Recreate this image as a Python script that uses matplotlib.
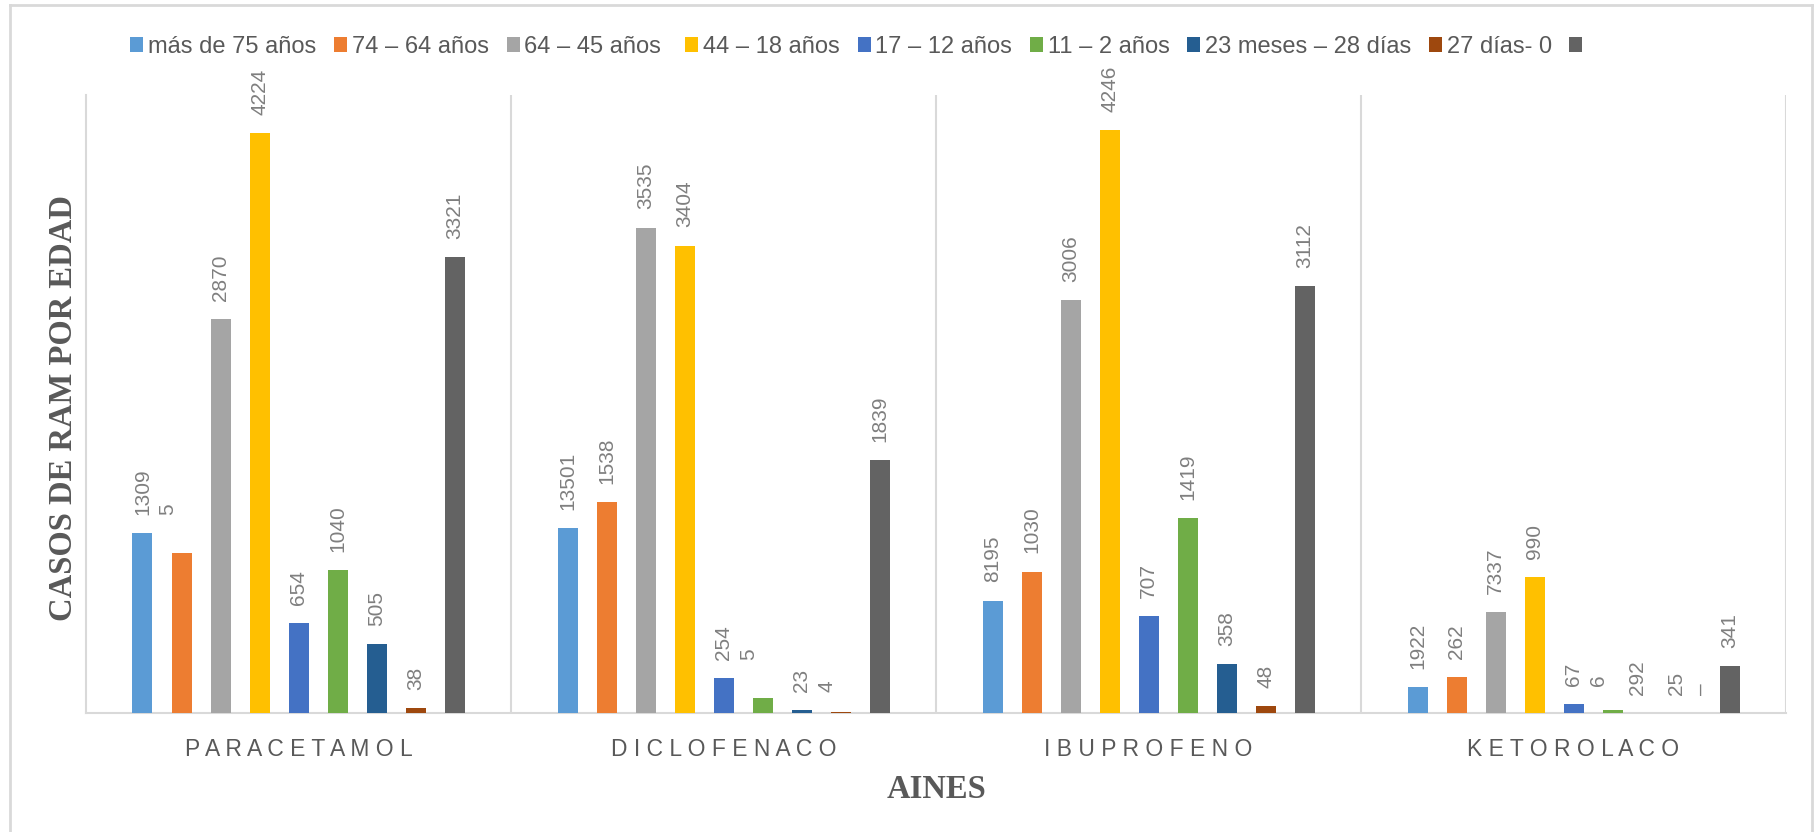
import numpy as np
import matplotlib
matplotlib.use("Agg")
import matplotlib.pyplot as plt
from matplotlib.patches import Patch
from matplotlib.lines import Line2D

# ---------------------------------------------------------------------------
# Datos: casos de RAM por grupo de edad para cada AINE
# ---------------------------------------------------------------------------
farmacos = ["P A R A C E T A M O L", "D I C L O F E N A C O",
            "I B U P R O F E N O", "K E T O R O L A C O"]
edades = ["más de 75 años", "74 – 64 años", "64 – 45 años ", "44 – 18 años",
          "17 – 12 años", "11 – 2 años", "23 meses – 28 días", "27 días- 0", ""]

paracetamol = [1309, 1168, 2870, 4224, 654, 1040, 505, 38, 3321]
diclofenaco = [1350, 1538, 3535, 3404, 254, 110, 23, 4, 1839]
ibuprofeno = [819, 1030, 3006, 4246, 707, 1419, 358, 48, 3112]
ketorolaco = [192, 262, 733, 990, 67, 22, 3, 2, 341]

# etiquetas de datos tal como aparecen (primera y segunda línea)
et_paracetamol = ["1309", "", "2870", "4224", "654", "1040", "505", "38", "3321"]
et_diclofenaco = ["13501", "1538", "3535", "3404", "254", "", "23", "", "1839"]
et_ibuprofeno = ["8195", "1030", "3006", "4246", "707", "1419", "358", "48", "3112"]
et_ketorolaco = ["1922", "262", "7337", "990", "67", "", "292", "25", "341"]

l2_paracetamol = ["5", "", "", "", "", "", "", "", ""]
l2_diclofenaco = ["", "", "", "", "5", "", "4", "", ""]
l2_ibuprofeno = ["", "", "", "", "", "", "", "", ""]
l2_ketorolaco = ["", "", "", "", "6", "", "", "–", ""]

colores = ["#5B9BD5", "#ED7D31", "#A5A5A5", "#FFC000", "#4472C4",
           "#70AD47", "#255E91", "#9E480E", "#636363"]

valores = np.array([paracetamol, diclofenaco, ibuprofeno, ketorolaco])
etiquetas = [et_paracetamol, et_diclofenaco, et_ibuprofeno, et_ketorolaco]
segundas = [l2_paracetamol, l2_diclofenaco, l2_ibuprofeno, l2_ketorolaco]

# desplazamiento horizontal (pt) de algunas etiquetas
desplaz = {(3, 6): -10, (3, 7): -10}

SANS = "Liberation Sans"
SERIF = "Liberation Serif"
GRIS_TXT = "#595959"
GRIS_ET = "#7F7F7F"
GRIS_LIN = "#D9D9D9"
FS_ET = 15

fig = plt.figure(figsize=(18.2, 8.32), dpi=100)
ax = fig.add_axes([86 / 1820, 119 / 832, 1700 / 1820, 618 / 832])

n_ser = len(edades)
paso = 39 / 425
ancho = 20 / 425
x = np.arange(len(farmacos))

for j in range(n_ser):
    pos = x + (j - (n_ser - 1) / 2) * paso
    ax.bar(pos, valores[:, j], width=ancho, color=colores[j], zorder=3)
    for i in range(len(farmacos)):
        dx = desplaz.get((i, j), 0)
        txt = etiquetas[i][j]
        if txt:
            ax.annotate(txt, (pos[i], valores[i, j]), xytext=(dx, 13),
                        textcoords="offset points", rotation=90,
                        ha="center", va="bottom", fontsize=FS_ET,
                        color=GRIS_ET, family=SANS)
        if segundas[i][j]:
            # segunda línea de la etiqueta, a la derecha de la primera
            ax.annotate(segundas[i][j], (pos[i], valores[i, j]),
                        xytext=(dx + 18, 13), textcoords="offset points",
                        rotation=90, ha="center", va="bottom", fontsize=FS_ET,
                        color=GRIS_ET, family=SANS)

ax.set_xlim(-0.5, len(farmacos) - 0.5)
ax.set_ylim(0, 4500)
ax.set_yticks([])
ax.set_xticks(x)
ax.set_xticklabels(farmacos, fontsize=16.5, color=GRIS_TXT, family=SANS)
ax.tick_params(axis="x", length=0, pad=18)

for s in ["top", "right"]:
    ax.spines[s].set_visible(False)
for s in ["left", "bottom"]:
    ax.spines[s].set_color(GRIS_LIN)
    ax.spines[s].set_linewidth(1.5)
for xs in np.arange(0.5, len(farmacos), 1.0):
    ax.axvline(xs, color=GRIS_LIN, linewidth=1.5, zorder=1)

ax.set_xlabel("AINES", fontsize=23.5, fontweight="bold", family=SERIF,
              color=GRIS_TXT, labelpad=9)
fig.text(64 / 1820, 1 - 408 / 832, "CASOS DE RAM POR EDAD", rotation=90,
         ha="center", va="center", fontsize=23.5, fontweight="bold",
         family=SERIF, color=GRIS_TXT)

handles = [Patch(facecolor=c, edgecolor="none") for c in colores]
fig.legend(handles, edades, loc="center left", ncol=n_ser,
           bbox_to_anchor=(121 / 1820, 1 - 47 / 832), frameon=False,
           prop={"family": SANS, "size": 17}, labelcolor=GRIS_TXT,
           handlelength=0.55, handleheight=0.6, handletextpad=0.2,
           columnspacing=0.75, borderaxespad=0)

# marco del área del gráfico
marco = [((10, 10), (5, 840)), ((10, 1812), (5, 5)), ((1812, 1812), (5, 840))]
for xs, ys in marco:
    fig.add_artist(Line2D([v / 1820 for v in xs], [1 - v / 832 for v in ys],
                          color=GRIS_LIN, linewidth=2))

fig.savefig("out.png", dpi=100)
